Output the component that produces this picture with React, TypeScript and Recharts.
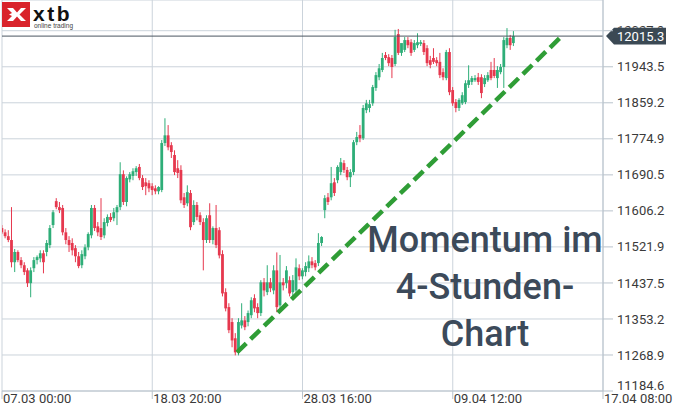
import React from 'react';
import { ComposedChart, Bar, XAxis, YAxis, CartesianGrid, ReferenceLine } from 'recharts';

// ---- data ----
const opens = [11566,11556,11547,11538,11486,11510,11491,11479,11467,11437,
11472,11491,11495,11507,11510,11526,11573,11629,11615,11613,
11556,11538,11531,11519,11500,11479,11500,11521,11549,11613,
11570,11566,11549,11578,11592,11589,11603,11615,11692,11627,
11680,11688,11697,11709,11683,11673,11671,11664,11659,11652,
11655,11765,11783,11760,11737,11706,11702,11638,11624,11648,
11580,11620,11596,11580,11538,11596,11538,11566,11561,11505,
11416,11381,11346,11308,11275,11338,11350,11346,11362,11402,
11381,11367,11439,11416,11439,11420,11467,11385,11439,11437,
11444,11416,11420,11472,11453,11463,11472,11488,11484,11484,
11531,11608,11638,11638,11673,11678,11697,11718,11702,11685,
11697,11767,11784,11776,11842,11847,11858,11894,11919,11936,
11971,11966,11964,11950,12020,11976,11983,12006,12001,11983,
11994,11997,11999,11987,11959,11964,11959,11955,11931,11917,
11978,11889,11861,11847,11858,11861,11901,11908,11912,11919,
11919,11903,11912,11936,11936,11917,11931,11943,11994,12011,
11999];

const highs = [11573,11563,11561,11615,11517,11514,11498,11486,11472,11474,
11498,11502,11514,11514,11538,11573,11608,11636,11627,11620,
11566,11547,11542,11526,11510,11514,11528,11556,11620,11620,
11580,11636,11589,11598,11601,11613,11620,11720,11701,11687,
11697,11706,11711,11716,11690,11683,11678,11671,11666,11664,
11772,11823,11807,11767,11748,11725,11713,11648,11666,11655,
11631,11627,11603,11589,11596,11624,11570,11620,11568,11514,
11425,11390,11355,11320,11355,11390,11360,11373,11404,11411,
11390,11444,11449,11479,11449,11479,11509,11503,11449,11477,
11453,11456,11495,11481,11472,11486,11502,11498,11491,11554,
11547,11643,11648,11709,11683,11713,11730,11725,11709,11704,
11772,11791,11807,11854,11866,11866,11901,11931,11950,11976,
11978,11973,11971,12030,12032,11994,12013,12013,12008,12006,
12022,12006,12006,11994,11969,11987,11966,11976,11940,11983,
11987,11896,11868,11870,11884,11912,11947,11922,11924,11929,
11926,11924,11931,11955,11964,11945,11950,12013,12034,12018,
12027];

const lows = [11552,11542,11533,11474,11463,11486,11472,11456,11428,11404,
11463,11481,11486,11460,11500,11519,11566,11610,11601,11549,
11528,11510,11502,11486,11472,11472,11493,11514,11542,11559,
11547,11538,11542,11570,11580,11582,11573,11608,11620,11617,
11673,11678,11688,11678,11655,11643,11650,11643,11645,11645,
11650,11758,11748,11730,11690,11683,11624,11613,11617,11561,
11573,11584,11573,11467,11531,11531,11528,11519,11495,11406,
11371,11320,11287,11268,11268,11331,11327,11336,11355,11369,
11355,11360,11406,11409,11416,11411,11369,11374,11420,11425,
11406,11406,11413,11444,11446,11453,11463,11472,11467,11477,
11524,11589,11620,11631,11641,11671,11690,11695,11678,11662,
11690,11760,11767,11772,11835,11837,11852,11887,11912,11931,
11959,11945,11917,11945,11971,11969,11978,11987,11969,11978,
11987,11992,11971,11945,11940,11950,11945,11917,11912,11912,
11877,11852,11837,11840,11854,11856,11894,11901,11908,11901,
11870,11896,11908,11912,11917,11894,11926,11894,11987,11983,
11992];

const closes = [11556,11547,11538,11486,11510,11491,11479,11463,11437,11467,
11491,11498,11507,11486,11531,11566,11603,11615,11608,11556,
11538,11526,11514,11500,11477,11505,11521,11552,11613,11566,
11556,11545,11580,11592,11585,11603,11615,11692,11627,11683,
11692,11699,11706,11683,11662,11664,11659,11655,11652,11662,
11765,11783,11755,11744,11697,11695,11631,11620,11650,11568,
11620,11592,11580,11538,11589,11538,11566,11526,11502,11413,
11378,11327,11303,11275,11346,11350,11334,11367,11397,11378,
11367,11439,11420,11439,11425,11467,11381,11439,11432,11467,
11413,11444,11474,11453,11467,11477,11488,11479,11474,11531,
11545,11636,11627,11671,11648,11709,11720,11702,11685,11697,
11767,11779,11776,11847,11858,11856,11896,11924,11940,11964,
11964,11952,11943,12013,11976,11999,12006,11994,11976,11999,
12001,12001,11978,11952,11948,11955,11952,11924,11919,11978,
11884,11858,11847,11866,11877,11905,11912,11917,11917,11908,
11882,11917,11924,11917,11922,11936,11943,12006,12011,11994,
12015.3];

const xTickValues = [0, 47, 94, 141, 188];
const xTickLabels = ['07.03 00:00', '18.03 20:00', '28.03 16:00', '09.04 12:00', '17.04 08:00'];
const yTicks = [11184.6, 11268.9, 11353.2, 11437.5, 11521.9, 11606.2, 11690.5, 11774.9, 11859.2, 11943.5, 12027.9];
const yDomain = [11184.6, 12099.8];
const lastPrice = 12015.3;
const trendX = [73.5, 175.5];
const trendY = [11275, 12018];
const titleLines = ['Momentum im', '4-Stunden-', 'Chart'];

const data = opens.map((o, i) => ({
  i,
  o,
  h: highs[i],
  l: lows[i],
  c: closes[i],
  range: [lows[i], highs[i]],
}));

const UP = '#2eae78';
const DOWN = '#e6384e';
const GRID = '#cbd3db';
const FONT = 'Roboto, "Noto Sans", sans-serif';

const CandleShape = (props: any) => {
  let { x, y, width, height, payload } = props;
  if (!payload || height == null || isNaN(y)) return null;
  if (height < 0) { y = y + height; height = -height; }
  const { o, h, l, c } = payload;
  const cx = x + width / 2;
  const span = h - l || 1;
  const k = height / span;
  const top = y + (h - Math.max(o, c)) * k;
  const bot = y + (h - Math.min(o, c)) * k;
  const color = c >= o ? UP : DOWN;
  const bw = 2.8;
  return (
    <g>
      <line x1={cx} x2={cx} y1={y} y2={y + height} stroke={color} strokeWidth={1} />
      <rect x={cx - bw / 2} y={top} width={bw} height={Math.max(1, bot - top)} fill={color} />
    </g>
  );
};

const XTick = (props: any) => {
  const { x, y, payload } = props;
  const idx = xTickValues.indexOf(payload.value);
  return (
    <text x={x + 1} y={y + 4} fill="#3a3a3a" fontSize={13} fontFamily={FONT} textAnchor="start">
      {idx >= 0 ? xTickLabels[idx] : ''}
    </text>
  );
};

const YTick = (props: any) => {
  const { x, y, payload } = props;
  const isBottom = payload.value === yTicks[0];
  const isTop = payload.value === yTicks[yTicks.length - 1];
  const shift = isBottom ? -6 : 0;
  const txt = (
    <text x={x} y={y + 4.6 + shift} fill="#3a3a3a" fontSize={13} fontFamily={FONT} textAnchor="start">
      {payload.value.toFixed(1)}
    </text>
  );
  if (isTop) {
    // the last-price tag sits over this label: only its upper sliver shows
    return (
      <g>
        <defs>
          <clipPath id="topTickClip">
            <rect x={x - 2} y={y - 12} width={70} height={9} />
          </clipPath>
        </defs>
        <g clipPath="url(#topTickClip)">{txt}</g>
      </g>
    );
  }
  return txt;
};

const PriceTag = (props: any) => {
  const vb = props.viewBox || {};
  const { x, y, width } = vb;
  if (x == null) return null;
  const ax = x + width + 3;
  return (
    <g>
      <path d={`M${ax} ${y} L${ax + 8} ${y - 8.3} H${ax + 60} V${y + 8.3} H${ax + 8} Z`} fill="#3b4954" />
      <text x={ax + 11} y={y + 4.6} fill="#ffffff" fontSize={13} fontFamily={FONT}>
        {lastPrice.toFixed(1)}
      </text>
    </g>
  );
};

export default function App() {
  return (
    <div style={{ position: 'absolute', left: 0, top: 0, width: 678, height: 413, background: '#fff' }}>
      <ComposedChart width={678} height={413} data={data} margin={{ top: 0, right: 0, left: 2, bottom: 0 }}>
        <CartesianGrid stroke={GRID} strokeWidth={1} />
        <XAxis
          dataKey="i"
          type="number"
          domain={[0, 188]}
          ticks={xTickValues}
          interval={0}
          height={22}
          tickSize={8}
          tickMargin={0}
          axisLine={{ stroke: '#b9c3cc' }}
          tickLine={{ stroke: '#b9c3cc' }}
          tick={<XTick />}
          allowDataOverflow
        />
        <YAxis
          orientation="right"
          width={75}
          domain={yDomain}
          ticks={yTicks}
          interval={0}
          tickSize={10}
          tickMargin={4}
          axisLine={{ stroke: '#b9c3cc' }}
          tickLine={{ stroke: '#b9c3cc' }}
          tick={<YTick />}
          allowDataOverflow
        />
        <Bar dataKey="range" shape={<CandleShape />} barSize={3} isAnimationActive={false} />
        <ReferenceLine
          segment={[{ x: trendX[0], y: trendY[0] }, { x: trendX[1], y: trendY[1] }]}
          stroke="#2f9d36"
          strokeWidth={4.5}
          strokeDasharray="13 6"
        />
        <ReferenceLine y={lastPrice} stroke="#4a5660" strokeWidth={1} label={<PriceTag />} />
      </ComposedChart>
      <svg width={678} height={413} style={{ position: 'absolute', left: 0, top: 0, pointerEvents: 'none' }}>
        <rect x={2} y={2} width={28} height={25} fill="#d9232b" />
        <path d="M7 8 L13 8 L17 12.5 L21 8 L26 8 L19.5 14.5 L26 21 L21 21 L17 16.5 L13 21 L7 21 L12 16 L9 14.5 L12 13 Z" fill="#ffffff" />
        <text x={33} y={20.5} fontSize={21} fontWeight={900} fontFamily='"Liberation Sans", Arial, sans-serif' letterSpacing={2.5} fill="#111">xtb</text>
        <text x={34} y={28} fontSize={6.5} fontFamily='"Liberation Sans", Arial, sans-serif' fill="#444">online trading</text>
        {titleLines.map((t, k) => (
          <text key={k} x={485} y={252 + k * 47} textAnchor="middle" fontSize={36} fontWeight={500} fontFamily={FONT} fill="#3c4a5a">
            {t}
          </text>
        ))}
      </svg>
    </div>
  );
}
